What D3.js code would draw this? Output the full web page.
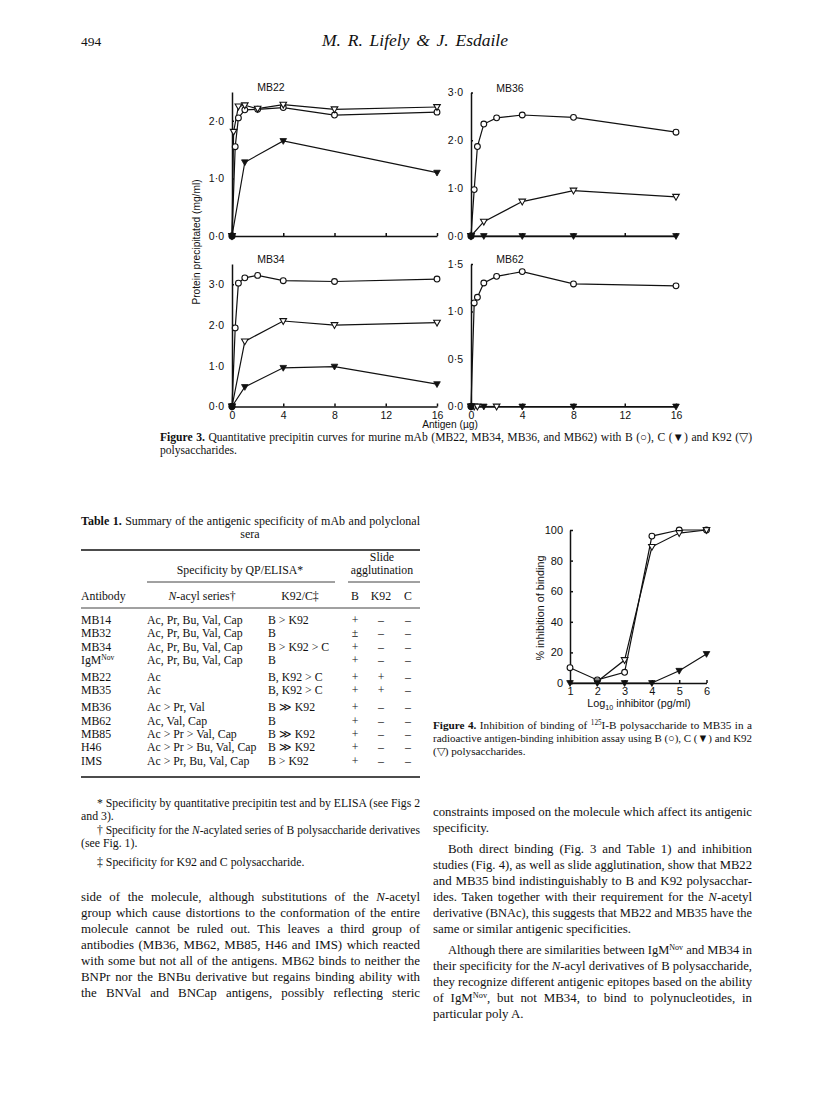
<!DOCTYPE html>
<html><head><meta charset="utf-8">
<script src="https://cdn.jsdelivr.net/npm/d3@7"></script>
<style>body{margin:0;background:#fff}svg{display:block}</style>
</head><body>
<svg id="page" width="816" height="1115"></svg>
<script>
// ---------- DATA: Figure 3 (Antigen µg vs protein precipitated mg/ml) ----------
const antigenTicks = [0, 4, 8, 12, 16];

const mb22_B_x   = [0, 0.25, 0.5, 1, 2, 4, 8, 16];
const mb22_B_y   = [0, 1.55, 2.05, 2.19, 2.2, 2.23, 2.1, 2.15];
const mb22_K92_x = [0, 0.125, 0.5, 1, 2, 4, 8, 16];
const mb22_K92_y = [0, 1.81, 2.25, 2.27, 2.21, 2.28, 2.2, 2.24];
const mb22_C_x   = [0, 1, 4, 16];
const mb22_C_y   = [0, 1.28, 1.65, 1.1];

const mb36_B_x   = [0, 0.25, 0.5, 1, 2, 4, 8, 16];
const mb36_B_y   = [0, 0.97, 1.87, 2.34, 2.47, 2.53, 2.48, 2.17];
const mb36_K92_x = [0, 1, 4, 8, 16];
const mb36_K92_y = [0, 0.3, 0.72, 0.95, 0.82];
const mb36_C_x   = [0, 1, 4, 8, 16];
const mb36_C_y   = [0, 0, 0, 0, 0];

const mb34_B_x   = [0, 0.25, 0.5, 1, 2, 4, 8, 16];
const mb34_B_y   = [0, 1.93, 3.03, 3.16, 3.22, 3.09, 3.07, 3.13];
const mb34_K92_x = [0, 1, 4, 8, 16];
const mb34_K92_y = [0, 1.6, 2.1, 2.0, 2.06];
const mb34_C_x   = [0, 1, 4, 8, 16];
const mb34_C_y   = [0, 0.48, 0.95, 0.98, 0.55];

const mb62_B_x   = [0, 0.25, 0.5, 1, 2, 4, 8, 16];
const mb62_B_y   = [0, 1.09, 1.15, 1.3, 1.37, 1.42, 1.29, 1.27];
const mb62_K92_x = [0, 0.25, 0.5, 2];
const mb62_K92_y = [0, 0, 0, 0];
const mb62_C_x   = [0, 1, 4, 8, 16];
const mb62_C_y   = [0, 0, 0, 0, 0];

const mb22_yTicks = [0, 1, 2];
const mb36_yTicks = [0, 1, 2, 3];
const mb34_yTicks = [0, 1, 2, 3];
const mb62_yTicks = [0, 0.5, 1, 1.5];

// ---------- DATA: Figure 4 (log10 inhibitor vs % inhibition) ----------
const fig4Ticks  = [1, 2, 3, 4, 5, 6];
const fig4YTicks = [0, 20, 40, 60, 80, 100];
const fig4_B_x   = [1, 2, 3, 4, 5, 6];
const fig4_B_y   = [10, 2, 7, 96, 100, 100];
const fig4_K92_x = [2, 3, 4, 5, 6];
const fig4_K92_y = [1, 15, 89, 98, 100];
const fig4_C_x   = [1, 2, 3, 4, 5, 6];
const fig4_C_y   = [0, 0, 0, 0, 8, 19];

// ---------- DATA: Table 1 ----------
const tabAntibody = ["MB14", "MB32", "MB34", "IgM^Nov^", "MB22", "MB35", "MB36", "MB62", "MB85", "H46", "IMS"];
const tabGroup    = [0, 0, 0, 0, 1, 1, 2, 2, 2, 2, 2];
const tabNacyl    = ["Ac, Pr, Bu, Val, Cap", "Ac, Pr, Bu, Val, Cap", "Ac, Pr, Bu, Val, Cap", "Ac, Pr, Bu, Val, Cap",
                     "Ac", "Ac", "Ac > Pr, Val", "Ac, Val, Cap", "Ac > Pr > Val, Cap", "Ac > Pr > Bu, Val, Cap", "Ac > Pr, Bu, Val, Cap"];
const tabK92C     = ["B > K92", "B", "B > K92 > C", "B", "B, K92 > C", "B, K92 > C", "B \u226B K92", "B", "B \u226B K92", "B \u226B K92", "B > K92"];
const tabSlideB   = ["+", "\u00B1", "+", "+", "+", "+", "+", "+", "+", "+", "+"];
const tabSlideK92 = ["\u2013", "\u2013", "\u2013", "\u2013", "+", "+", "\u2013", "\u2013", "\u2013", "\u2013", "\u2013"];
const tabSlideC   = ["\u2013", "\u2013", "\u2013", "\u2013", "\u2013", "\u2013", "\u2013", "\u2013", "\u2013", "\u2013", "\u2013"];

// ---------- TEXT ----------
const leftText = [
  "side of the molecule, although substitutions of the ~N~-acetyl",
  "group which cause distortions to the conformation of the entire",
  "molecule cannot be ruled out. This leaves a third group of",
  "antibodies (MB36, MB62, MB85, H46 and IMS) which reacted",
  "with some but not all of the antigens. MB62 binds to neither the",
  "BNPr nor the BNBu derivative but regains binding ability with",
  "the BNVal and BNCap antigens, possibly reflecting steric"
];
const rightText = [
  ["constraints imposed on the molecule which affect its antigenic", 0, 1],
  ["specificity.", 0, 0],
  ["Both direct binding (Fig. 3 and Table 1) and inhibition", 1, 1],
  ["studies (Fig. 4), as well as slide agglutination, show that MB22", 0, 1],
  ["and MB35 bind indistinguishably to B and K92 polysacchar-", 0, 1],
  ["ides. Taken together with their requirement for the ~N~-acetyl", 0, 1],
  ["derivative (BNAc), this suggests that MB22 and MB35 have the", 0, 1],
  ["same or similar antigenic specificities.", 0, 0],
  ["Although there are similarities between IgM^Nov^ and MB34 in", 1, 1],
  ["their specificity for the ~N~-acyl derivatives of B polysaccharide,", 0, 1],
  ["they recognize different antigenic epitopes based on the ability", 0, 1],
  ["of IgM^Nov^, but not MB34, to bind to polynucleotides, in", 0, 1],
  ["particular poly A.", 0, 0]
];

// ---------- RENDER ----------
const SERIF = "'Liberation Serif','Times New Roman',serif";
const SANS = "'Liberation Sans',Arial,sans-serif";
const svg = d3.select("#page");
svg.append("rect").attr("width", 816).attr("height", 1115).attr("fill", "#fff");

function rich(g, x, y, str, o = {}) {
  const size = o.size || 12;
  const t = g.append("text").attr("x", x).attr("y", y)
    .attr("font-family", o.family || SERIF).attr("font-size", size)
    .attr("text-anchor", o.anchor || "start").attr("fill", "#111");
  if (o.style) t.attr("font-style", o.style);
  if (o.weight) t.attr("font-weight", o.weight);
  const parts = str.split(/(~[^~]+~|\^[^^]+\^|_[^_]+_|#[^#]+#)/).filter(s => s.length);
  let pending = 0, plain = "";
  parts.forEach(p => {
    const ts = t.append("tspan");
    let txt = p, dy = pending;
    pending = 0;
    if (p[0] === "~") { txt = p.slice(1, -1); ts.attr("font-style", "italic"); }
    else if (p[0] === "#") { txt = p.slice(1, -1); ts.attr("font-weight", "bold"); }
    else if (p[0] === "^") { txt = p.slice(1, -1); ts.attr("font-size", size * 0.64); dy += -size * 0.33; pending = size * 0.33; }
    else if (p[0] === "_") { txt = p.slice(1, -1); ts.attr("font-size", size * 0.66); dy += size * 0.26; pending = -size * 0.26; }
    if (dy) ts.attr("dy", dy);
    ts.text(txt);
    plain += txt;
  });
  if (o.width) {
    const len = t.node().getComputedTextLength();
    const spaces = (plain.match(/ /g) || []).length;
    if (len > o.width) {
      t.attr("textLength", o.width).attr("lengthAdjust", "spacingAndGlyphs");
    } else if (spaces > 0) {
      t.attr("word-spacing", (o.width - len) / spaces);
    }
  }
  return t;
}

const symCircle = (g, x, y) => g.append("circle").attr("cx", x).attr("cy", y).attr("r", 2.9)
  .attr("fill", "#fff").attr("stroke", "#111").attr("stroke-width", 1.1);
const triPath = "M0,3.4L-3.3,-2.4L3.3,-2.4Z";
const symTriOpen = (g, x, y) => g.append("path").attr("d", triPath).attr("transform", `translate(${x},${y})`)
  .attr("fill", "#fff").attr("stroke", "#111").attr("stroke-width", 1.1);
const symTriFill = (g, x, y) => g.append("path").attr("d", triPath).attr("transform", `translate(${x},${y})`)
  .attr("fill", "#111").attr("stroke", "#111").attr("stroke-width", 0.8);

function series(g, xs, ys, sx, sy, sym) {
  const pts = xs.map((v, i) => [sx(v), sy(ys[i])]);
  g.append("path").attr("d", d3.line()(pts)).attr("fill", "none").attr("stroke", "#111").attr("stroke-width", 1.2);
  return () => pts.forEach(p => sym(g, p[0], p[1]));
}

const fmt1 = v => d3.format(".1f")(v).replace(".", "\u00B7");

function panel(cfg) {
  const g = svg.append("g");
  const sx = d3.scaleLinear().domain([0, 16]).range([cfg.x0, cfg.x1]);
  const sy = d3.scaleLinear().domain([0, cfg.yMax]).range([cfg.y0, cfg.yTop]);
  const xa = d3.axisBottom(sx).tickValues(antigenTicks).tickSizeInner(-3).tickSizeOuter(0).tickPadding(5)
    .tickFormat(cfg.xLabels ? d3.format("d") : () => "");
  const gx = g.append("g").attr("transform", `translate(0,${cfg.y0})`).call(xa);
  const ya = d3.axisLeft(sy).tickValues(cfg.yTicks).tickSizeInner(-2).tickSizeOuter(0).tickPadding(8).tickFormat(fmt1);
  const gy = g.append("g").attr("transform", `translate(${cfg.x0},0)`).call(ya);
  [gx, gy].forEach(a => {
    a.selectAll("path,line").attr("stroke", "#111").attr("stroke-width", 1.5);
    a.selectAll("text").attr("font-family", SANS).attr("font-size", 10.5).attr("fill", "#111");
  });
  g.append("text").attr("x", cfg.x0 + 39).attr("y", cfg.yTop - 1).attr("text-anchor", "middle")
    .attr("font-family", SANS).attr("font-size", 10.5).attr("fill", "#111").text(cfg.title);
  const draws = [
    series(g, cfg.Bx, cfg.By, sx, sy, symCircle),
    series(g, cfg.Kx, cfg.Ky, sx, sy, symTriOpen),
    series(g, cfg.Cx, cfg.Cy, sx, sy, symTriFill)
  ];
  draws.forEach(d => d());
  g.append("circle").attr("cx", sx(0)).attr("cy", sy(0)).attr("r", 3.4).attr("fill", "#111");
}

panel({ title: "MB22", x0: 232, x1: 437, y0: 236, yTop: 92, yMax: 2.5, yTicks: mb22_yTicks, xLabels: false,
  Bx: mb22_B_x, By: mb22_B_y, Kx: mb22_K92_x, Ky: mb22_K92_y, Cx: mb22_C_x, Cy: mb22_C_y });
panel({ title: "MB36", x0: 471, x1: 676, y0: 236, yTop: 92.5, yMax: 3.0, yTicks: mb36_yTicks, xLabels: false,
  Bx: mb36_B_x, By: mb36_B_y, Kx: mb36_K92_x, Ky: mb36_K92_y, Cx: mb36_C_x, Cy: mb36_C_y });
panel({ title: "MB34", x0: 232, x1: 437, y0: 406.5, yTop: 264, yMax: 3.5, yTicks: mb34_yTicks, xLabels: true,
  Bx: mb34_B_x, By: mb34_B_y, Kx: mb34_K92_x, Ky: mb34_K92_y, Cx: mb34_C_x, Cy: mb34_C_y });
panel({ title: "MB62", x0: 471, x1: 676, y0: 406.5, yTop: 264, yMax: 1.5, yTicks: mb62_yTicks, xLabels: true,
  Bx: mb62_B_x, By: mb62_B_y, Kx: mb62_K92_x, Ky: mb62_K92_y, Cx: mb62_C_x, Cy: mb62_C_y });

svg.append("text").attr("transform", "translate(200,242) rotate(-90)").attr("text-anchor", "middle")
  .attr("font-family", SANS).attr("font-size", 10.2).attr("fill", "#111").text("Protein precipitated (mg/ml)");
svg.append("text").attr("x", 450).attr("y", 428).attr("text-anchor", "middle")
  .attr("font-family", SANS).attr("font-size", 10.2).attr("fill", "#111").text("Antigen (\u00B5g)");

// Figure 4
(function () {
  const g = svg.append("g");
  const sx = d3.scaleLinear().domain([1, 6]).range([570, 706.5]);
  const sy = d3.scaleLinear().domain([0, 100]).range([683, 530]);
  const xa = d3.axisBottom(sx).tickValues(fig4Ticks).tickSizeInner(-3).tickSizeOuter(0).tickPadding(4).tickFormat(d3.format("d"));
  const ya = d3.axisLeft(sy).tickValues(fig4YTicks).tickSizeInner(-3).tickSizeOuter(0).tickPadding(7).tickFormat(d3.format("d"));
  const gx = g.append("g").attr("transform", "translate(0,683)").call(xa);
  const gy = g.append("g").attr("transform", "translate(570,0)").call(ya);
  [gx, gy].forEach(a => {
    a.selectAll("path,line").attr("stroke", "#111").attr("stroke-width", 1.5);
    a.selectAll("text").attr("font-family", SANS).attr("font-size", 11).attr("fill", "#111");
  });
  const draws = [
    series(g, fig4_B_x, fig4_B_y, sx, sy, symCircle),
    series(g, fig4_K92_x, fig4_K92_y, sx, sy, symTriOpen),
    series(g, fig4_C_x, fig4_C_y, sx, sy, symTriFill)
  ];
  draws.forEach(d => d());
  g.append("text").attr("transform", "translate(544,608) rotate(-90)").attr("text-anchor", "middle")
    .attr("font-family", SANS).attr("font-size", 10.8).attr("fill", "#111").text("% inhibition of binding");
  rich(g, 639, 707, "Log_10_ inhibitor (pg/ml)", { family: SANS, size: 10.8, anchor: "middle" });
})();

// Header
rich(svg, 81, 46, "494", { size: 13.5 });
rich(svg, 322, 46, "M. R. Lifely & J. Esdaile", { size: 17.5, style: "italic", width: 186 });

// Captions
rich(svg, 160, 441, "#Figure 3.# Quantitative precipitin curves for murine mAb (MB22, MB34, MB36, and MB62) with B (\u25CB), C (\u25BC) and K92 (\u25BD)", { size: 11.6, width: 592 });
rich(svg, 160, 454, "polysaccharides.", { size: 11.6 });
rich(svg, 433, 729, "#Figure 4.# Inhibition of binding of ^125^I-B polysaccharide to MB35 in a", { size: 11.2, width: 319 });
rich(svg, 433, 742, "radioactive antigen-binding inhibition assay using B (\u25CB), C (\u25BC) and K92", { size: 11.2, width: 319 });
rich(svg, 433, 755, "(\u25BD) polysaccharides.", { size: 11.2 });

// Table
(function () {
  const g = svg.append("g");
  const L = 81, R = 420;
  rich(g, L, 525, "#Table 1.# Summary of the antigenic specificity of mAb and polyclonal", { size: 12, width: R - L });
  rich(g, 250, 538, "sera", { size: 12, anchor: "middle" });
  g.append("line").attr("x1", L).attr("x2", R).attr("y1", 550).attr("y2", 550).attr("stroke", "#111").attr("stroke-width", 1.7);
  rich(g, 240, 574, "Specificity by QP/ELISA*", { size: 11.8, anchor: "middle" });
  rich(g, 382, 561, "Slide", { size: 11.8, anchor: "middle" });
  rich(g, 382, 574, "agglutination", { size: 11.8, anchor: "middle" });
  g.append("line").attr("x1", 147).attr("x2", 335).attr("y1", 582).attr("y2", 582).attr("stroke", "#111").attr("stroke-width", 0.8);
  g.append("line").attr("x1", 348).attr("x2", R).attr("y1", 582).attr("y2", 582).attr("stroke", "#111").attr("stroke-width", 0.8);
  const hy = 600;
  rich(g, L, hy, "Antibody", { size: 11.8 });
  rich(g, 202, hy, "~N~-acyl series\u2020", { size: 11.8, anchor: "middle" });
  rich(g, 300, hy, "K92/C\u2021", { size: 11.8, anchor: "middle" });
  rich(g, 355, hy, "B", { size: 11.8, anchor: "middle" });
  rich(g, 381, hy, "K92", { size: 11.8, anchor: "middle" });
  rich(g, 408, hy, "C", { size: 11.8, anchor: "middle" });
  g.append("line").attr("x1", L).attr("x2", R).attr("y1", 608).attr("y2", 608).attr("stroke", "#111").attr("stroke-width", 0.8);
  tabAntibody.forEach((ab, i) => {
    const y = 624 + i * 13.3 + tabGroup[i] * 3.8;
    rich(g, L, y, ab, { size: 11.8 });
    rich(g, 147, y, tabNacyl[i], { size: 11.8 });
    rich(g, 268, y, tabK92C[i], { size: 11.8 });
    rich(g, 355, y, tabSlideB[i], { size: 11.8, anchor: "middle" });
    rich(g, 381, y, tabSlideK92[i], { size: 11.8, anchor: "middle" });
    rich(g, 408, y, tabSlideC[i], { size: 11.8, anchor: "middle" });
  });
  g.append("line").attr("x1", L).attr("x2", R).attr("y1", 777).attr("y2", 777).attr("stroke", "#111").attr("stroke-width", 1.7);
  rich(g, 97, 807, "* Specificity by quantitative precipitin test and by ELISA (see Figs 2", { size: 11.8, width: R - 97 });
  rich(g, L, 820, "and 3).", { size: 11.8 });
  rich(g, 97, 834, "\u2020 Specificity for the ~N~-acylated series of B polysaccharide derivatives", { size: 11.8, width: R - 97 });
  rich(g, L, 847, "(see Fig. 1).", { size: 11.8 });
  rich(g, 97, 866, "\u2021 Specificity for K92 and C polysaccharide.", { size: 11.8 });
})();

// Body text
leftText.forEach((line, i) => rich(svg, 81, 901 + i * 16, line, { size: 12.9, width: 420 - 81 }));
(function () {
  let y = 816;
  rightText.forEach((r, i) => {
    const [line, indent, just] = r;
    if (indent && i > 0) y += 5;
    const x = 433 + (indent ? 15 : 0);
    rich(svg, x, y, line, { size: 12.9, width: just ? 752 - x : null });
    y += 16;
  });
})();
</script>
</body></html>
